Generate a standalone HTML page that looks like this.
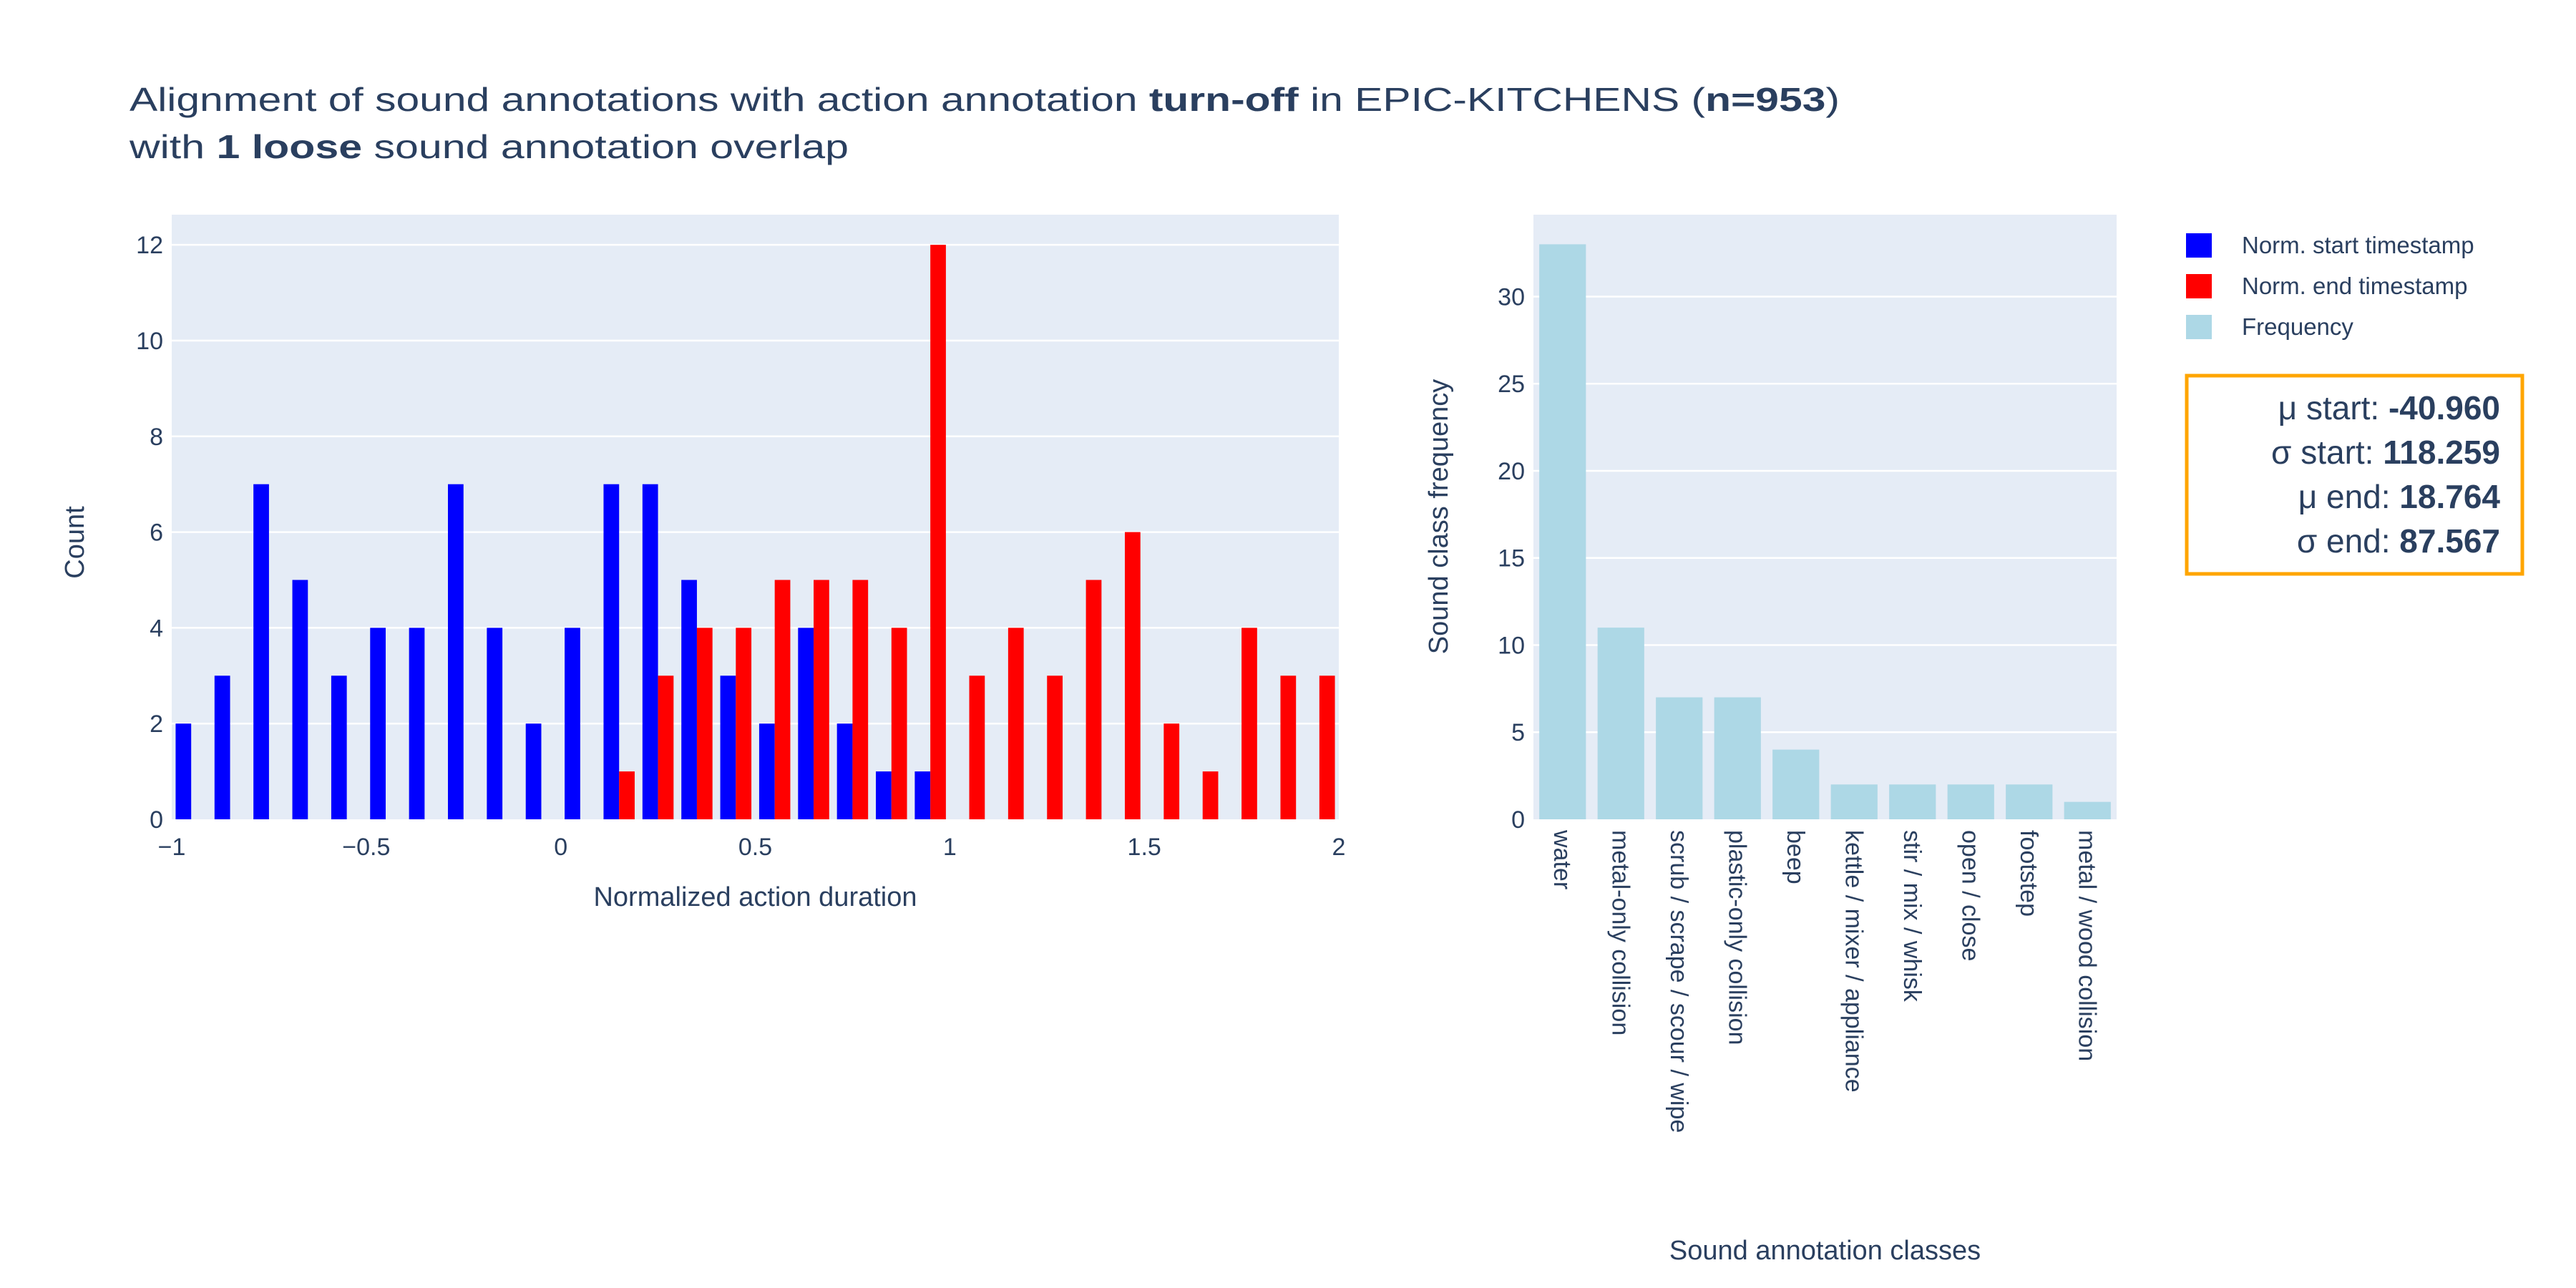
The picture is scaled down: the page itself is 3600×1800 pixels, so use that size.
<!DOCTYPE html>
<html><head><meta charset="utf-8">
<style>
html,body{margin:0;padding:0;background:#fff;}
svg{display:block;font-family:"Liberation Sans",sans-serif;fill:#2a3f5f;}
</style></head>
<body>
<svg id="chart" width="3600" height="1800" viewBox="0 0 3600 1800" xmlns="http://www.w3.org/2000/svg">
  <text x="181" y="155" font-size="46" textLength="2390" lengthAdjust="spacingAndGlyphs">Alignment of sound annotations with action annotation <tspan font-weight="bold">turn-off</tspan> in EPIC-KITCHENS (<tspan font-weight="bold">n=953</tspan>)</text>
  <text x="181" y="221" font-size="46" textLength="1005" lengthAdjust="spacingAndGlyphs">with <tspan font-weight="bold">1 loose</tspan> sound annotation overlap</text>
  <g id="left"></g>
  <g id="right"></g>
  <g id="legend"></g>
  <g>
    <rect x="3056" y="525" width="469" height="277" fill="none" stroke="#FFA500" stroke-width="5"/>
    <text x="3494" y="586" font-size="46" text-anchor="end">μ start: <tspan font-weight="bold">-40.960</tspan></text>
    <text x="3494" y="648" font-size="46" text-anchor="end">σ start: <tspan font-weight="bold">118.259</tspan></text>
    <text x="3494" y="710" font-size="46" text-anchor="end">μ end: <tspan font-weight="bold">18.764</tspan></text>
    <text x="3494" y="772" font-size="46" text-anchor="end">σ end: <tspan font-weight="bold">87.567</tspan></text>
  </g>
</svg>
<script>
const binStarts = [-1,-0.9,-0.8,-0.7,-0.6,-0.5,-0.4,-0.3,-0.2,-0.1,0,0.1,0.2,0.3,0.4,0.5,0.6,0.7,0.8,0.9,1.0,1.1,1.2,1.3,1.4,1.5,1.6,1.7,1.8,1.9];
const startCounts = [2,3,7,5,3,4,4,7,4,2,4,7,7,5,3,2,4,2,1,1,0,0,0,0,0,0,0,0,0,0];
const endCounts = [0,0,0,0,0,0,0,0,0,0,0,1,3,4,4,5,5,5,4,12,3,4,3,5,6,2,1,4,3,3];
const xTicks = [-1,-0.5,0,0.5,1,1.5,2];
const xTickLabels = ["−1","−0.5","0","0.5","1","1.5","2"];
const yTicksLeft = [0,2,4,6,8,10,12];
const categories = ["water","metal-only collision","scrub / scrape / scour / wipe","plastic-only collision","beep","kettle / mixer / appliance","stir / mix / whisk","open / close","footstep","metal / wood collision"];
const frequencies = [33,11,7,7,4,2,2,2,2,1];
const yTicksRight = [0,5,10,15,20,25,30];

const NS="http://www.w3.org/2000/svg";
function mk(tag, attrs, parent){const e=document.createElementNS(NS,tag);for(const k in attrs)e.setAttribute(k,attrs[k]);parent.appendChild(e);return e;}

const L={x0:240,x1:1871,y0:300,y1:1145,xmin:-1,xmax:2,ymax:12.63};
const lx=v=>L.x0+(v-L.xmin)/(L.xmax-L.xmin)*(L.x1-L.x0);
const ly=v=>L.y1-v/L.ymax*(L.y1-L.y0);
const left=document.getElementById('left');
const lbg=mk('rect',{x:L.x0,y:L.y0,width:L.x1-L.x0,height:L.y1-L.y0,fill:'#E5ECF6'},left);


yTicksLeft.forEach(t=>{
  if(t>0){const g=mk('line',{x1:L.x0,x2:L.x1,y1:ly(t),y2:ly(t),stroke:'#fff','stroke-width':2.5},left);
  
  }
  const tx=mk('text',{x:L.x0-12,y:ly(t)+12,'font-size':34,'text-anchor':'end'},left);tx.textContent=t;
  
  
});
xTicks.forEach((t,i)=>{
  const tx=mk('text',{x:lx(t),y:1195,'font-size':34,'text-anchor':'middle'},left);tx.textContent=xTickLabels[i];
  
  
});
const binW=0.1;
binStarts.forEach((b,i)=>{
  const px0=lx(b),pw=lx(b+binW)-px0,gw=pw*0.8,bw=gw/2,s=px0+pw*0.1;
  if(startCounts[i]>0){const r=mk('rect',{x:s,y:ly(startCounts[i]),width:bw,height:ly(0)-ly(startCounts[i]),fill:'#0000FF'},left);
  
  }
  if(endCounts[i]>0){const r=mk('rect',{x:s+bw,y:ly(endCounts[i]),width:bw,height:ly(0)-ly(endCounts[i]),fill:'#FF0000'},left);
  
  }
});
const lxt=mk('text',{x:(L.x0+L.x1)/2,y:1266,'font-size':38,'text-anchor':'middle'},left);lxt.textContent='Normalized action duration';


const lyt=mk('text',{x:0,y:0,'font-size':38,'text-anchor':'middle',transform:'translate(117,758) rotate(-90)'},left);lyt.textContent='Count';



const R={x0:2143,x1:2958,y0:300,y1:1145,ymax:34.7};
const ry=v=>R.y1-v/R.ymax*(R.y1-R.y0);
const band=(R.x1-R.x0)/categories.length;
const right=document.getElementById('right');
const rbg=mk('rect',{x:R.x0,y:R.y0,width:R.x1-R.x0,height:R.y1-R.y0,fill:'#E5ECF6'},right);


yTicksRight.forEach(t=>{
  if(t>0){const g=mk('line',{x1:R.x0,x2:R.x1,y1:ry(t),y2:ry(t),stroke:'#fff','stroke-width':2.5},right);
  
  }
  const tx=mk('text',{x:R.x0-12,y:ry(t)+12,'font-size':34,'text-anchor':'end'},right);tx.textContent=t;
  
  
});
categories.forEach((c,i)=>{
  const cx=R.x0+band*(i+0.5),bw=band*0.8;
  const r=mk('rect',{x:cx-bw/2,y:ry(frequencies[i]),width:bw,height:ry(0)-ry(frequencies[i]),fill:'#ADD8E6'},right);
  
  
  const tx=mk('text',{x:0,y:0,'font-size':34,transform:`translate(${cx-12},1160) rotate(90)`},right);tx.textContent=c;
  
  
});
const rxt=mk('text',{x:(R.x0+R.x1)/2,y:1760,'font-size':38,'text-anchor':'middle'},right);rxt.textContent='Sound annotation classes';


const ryt=mk('text',{x:0,y:0,'font-size':38,'text-anchor':'middle',transform:'translate(2023,722) rotate(-90)'},right);ryt.textContent='Sound class frequency';



const legendNames=["Norm. start timestamp","Norm. end timestamp","Frequency"];
const legendColors=["#0000FF","#FF0000","#ADD8E6"];
const lg=document.getElementById('legend');
legendNames.forEach((n,i)=>{
  const cy=343+i*57;
  const sw=mk('rect',{x:3055,y:cy-17,width:36,height:34,fill:legendColors[i]},lg);
  
  
  const tx=mk('text',{x:3133,y:cy+11,'font-size':33},lg);tx.textContent=n;
  
  
});
</script>
</body></html>
